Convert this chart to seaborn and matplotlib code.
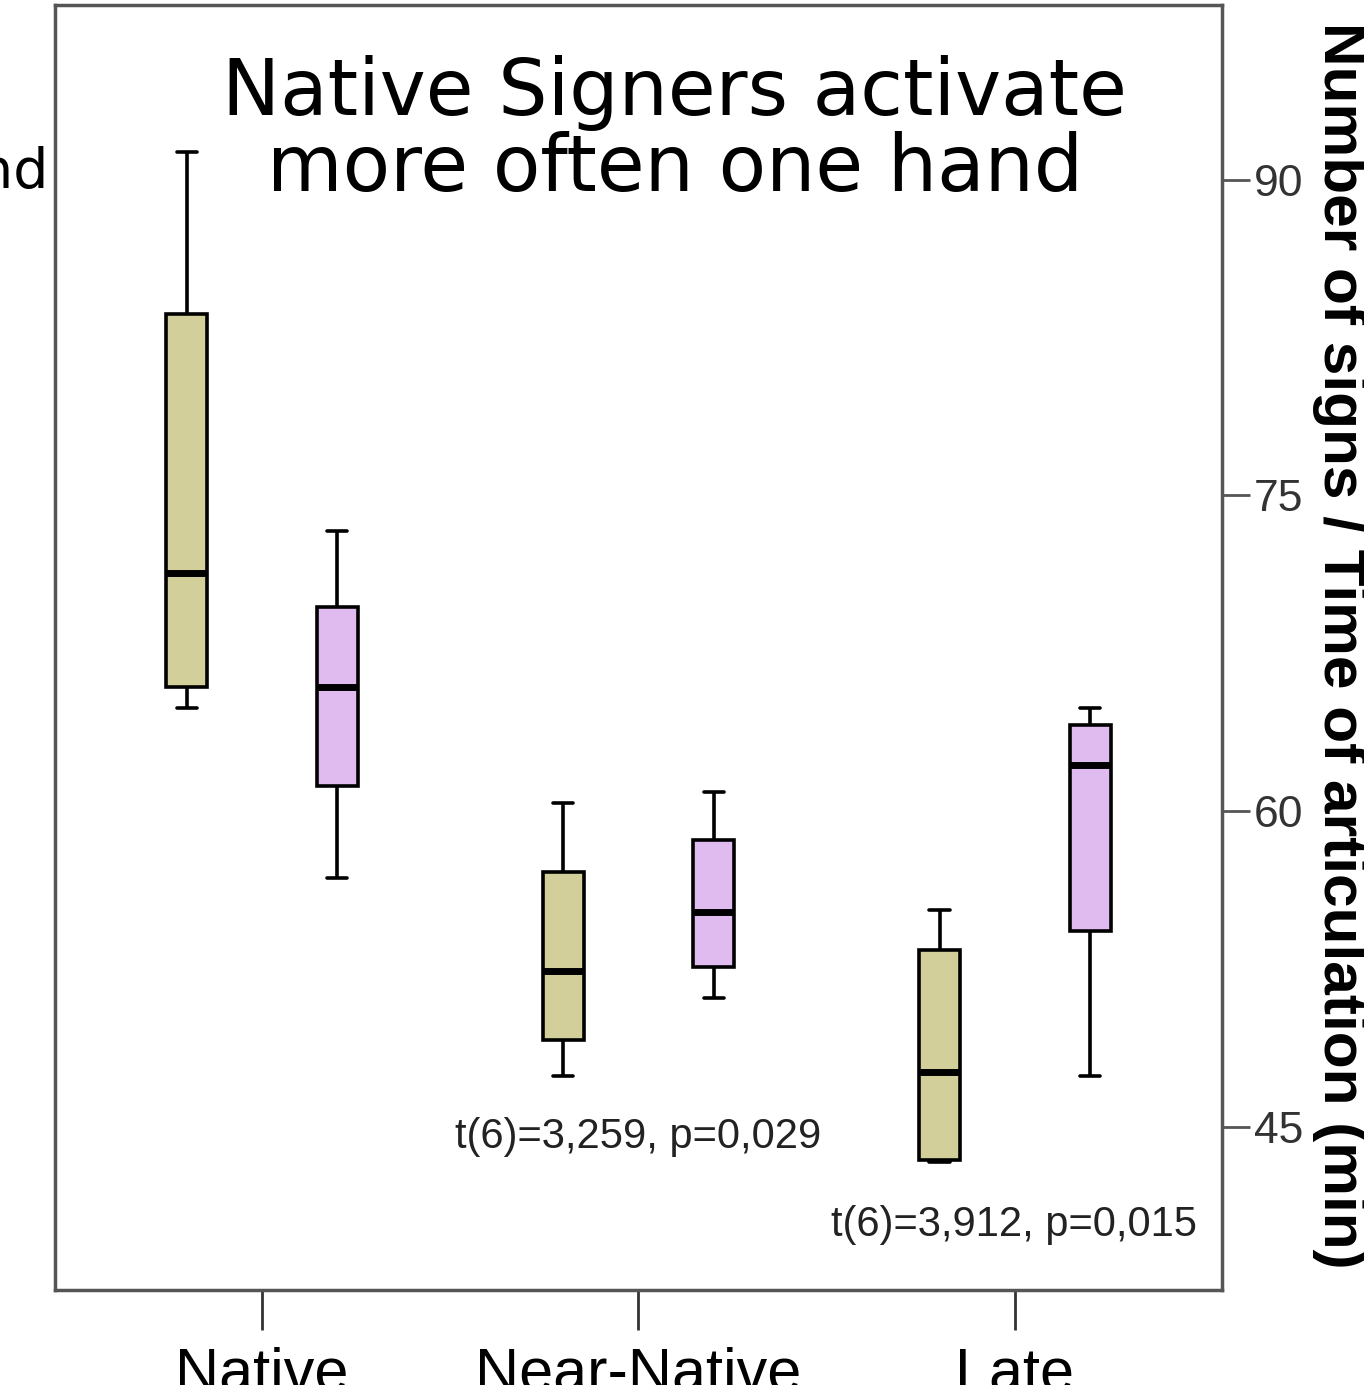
import numpy as np
import pandas as pd
import seaborn as sns
import matplotlib.pyplot as plt
from matplotlib import font_manager

# five-number summaries: min, Q1, median, Q3, max
groups = ["Native", "Near-Native", "Late"]
hands = ["One hand", "Two hands"]
native_one = [64.9, 65.9, 71.3, 83.6, 91.3]
native_two = [56.8, 61.2, 65.9, 69.7, 73.3]
near_one = [47.4, 49.1, 52.4, 57.1, 60.4]
near_two = [51.1, 52.6, 55.2, 58.6, 60.9]
late_one = [43.3, 43.4, 47.6, 53.4, 55.3]
late_two = [47.4, 54.3, 62.2, 64.1, 64.9]
y_ticks = [45, 60, 75, 90]
stats_text = ["t(6)=3,259, p=0,029", "t(6)=3,912, p=0,015"]

rows = []
for grp, one, two in zip(groups, [native_one, near_one, late_one], [native_two, near_two, late_two]):
    for v in one:
        rows.append({"group": grp, "hand": hands[0], "value": v})
    for v in two:
        rows.append({"group": grp, "hand": hands[1], "value": v})
df = pd.DataFrame(rows)

names = {f.name for f in font_manager.fontManager.ttflist}
narrow = "Liberation Sans Narrow" if "Liberation Sans Narrow" in names else "Liberation Sans"

sns.set_style("white")
fig = plt.figure(figsize=(13.64, 13.85), dpi=100)
ax = fig.add_axes([0.0403, 0.0686, 0.8556, 0.9278])

sns.boxplot(data=df, x="group", y="value", hue="hand", order=groups, hue_order=hands,
            palette=["#d3cf9a", "#dfbbf0"], saturation=1, width=0.8, gap=0.73, whis=np.inf,
            linewidth=2.6, linecolor="black", legend=False, ax=ax,
            medianprops={"linewidth": 5, "color": "black"})

ax.set_xlim(-0.55, 2.55)
ax.set_ylim(37.24, 98.3)
ax.set_xlabel("")
ax.yaxis.tick_right()
ax.set_yticks(y_ticks)
ax.set_yticklabels([str(t) for t in y_ticks], fontsize=32, color="#333333", family=narrow)
ax.set_ylabel("Number of signs / Time of articulation (min)", rotation=270,
              fontsize=43.5, fontweight="bold", family="Liberation Sans", color="black",
              va="center", ha="center")
ax.yaxis.set_label_coords(1.101, 0.502)
ax.tick_params(axis="y", right=True, length=20, width=2, color="#555555", pad=3)
ax.tick_params(axis="x", bottom=True, length=29, width=2, color="#333333", pad=12)
ax.set_xticks(range(3))
ax.set_xticklabels(groups, fontsize=44, family=narrow, color="black")
for s in ax.spines.values():
    s.set_visible(True)
    s.set_color("#555555")
    s.set_linewidth(2.5)

ax.text(0.531, 0.902, "Native Signers activate\nmore often one hand", transform=ax.transAxes,
        ha="center", va="center", fontsize=56, family="DejaVu Sans", color="black",
        linespacing=1.0)
ax.text(0.513, 44.5, stats_text[0], ha="left", va="center", fontsize=30,
        color="#222222", family="Liberation Sans")
ax.text(2.483, 40.33, stats_text[1], ha="right", va="center", fontsize=30,
        color="#222222", family="Liberation Sans")
fig.text(48 / 1364, 1 - 173 / 1385, "hand", ha="right", va="center", fontsize=40,
         family="DejaVu Sans", color="black")

fig.savefig("out.png", dpi=100)
